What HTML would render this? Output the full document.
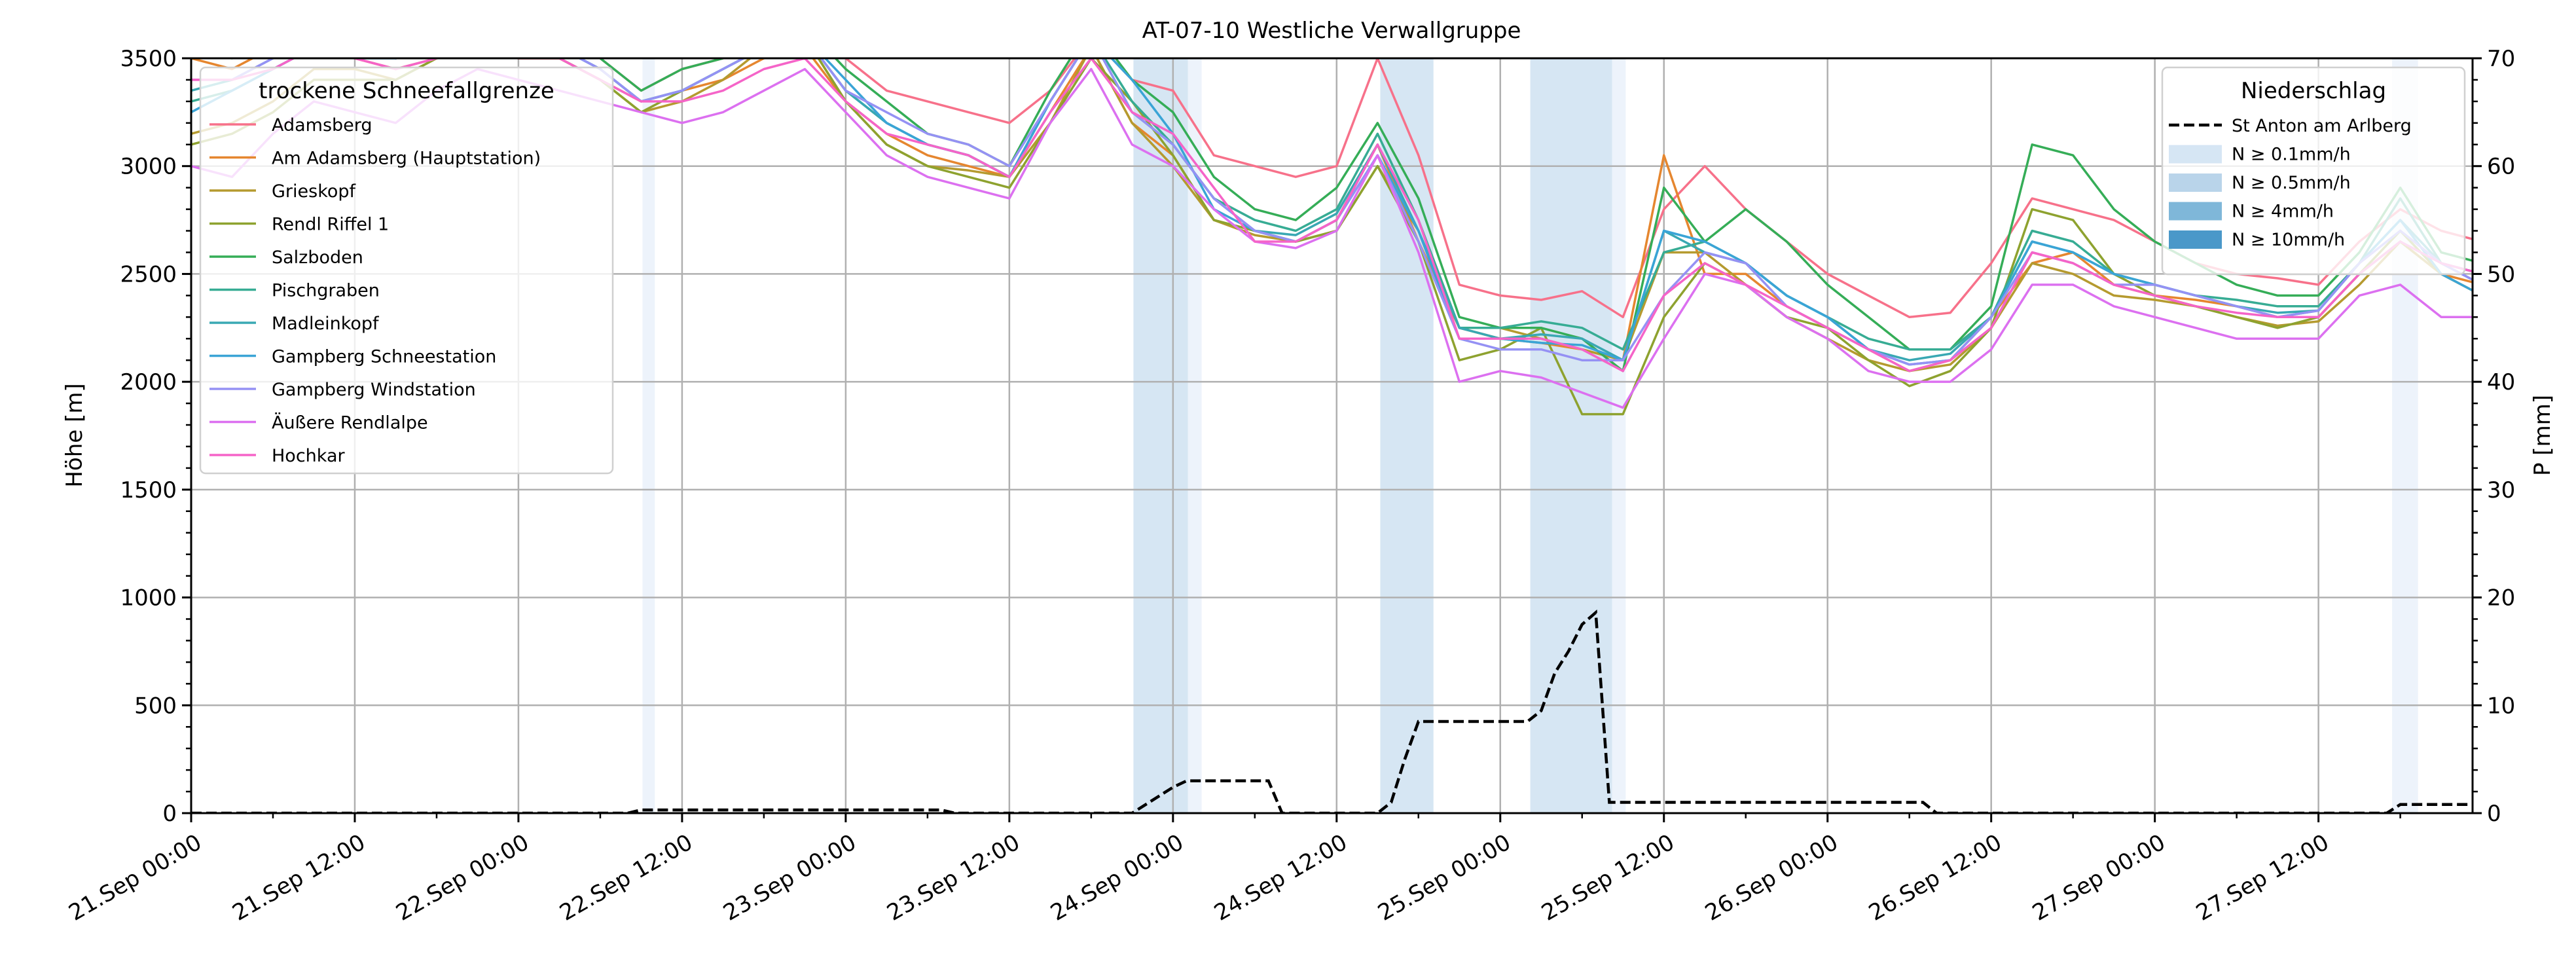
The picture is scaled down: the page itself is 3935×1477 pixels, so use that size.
<!DOCTYPE html>
<html><head><meta charset="utf-8">
<style>
html,body{margin:0;padding:0;background:#fff;}
svg{display:block;font-family:"DejaVu Sans","Liberation Sans",sans-serif;}
</style></head>
<body>
<svg id="chart" width="3935" height="1477" viewBox="0 0 3935 1477" xmlns="http://www.w3.org/2000/svg">
<defs><clipPath id="plotclip"><rect x="292" y="89" width="3485" height="1153"/></clipPath></defs>
<rect x="0" y="0" width="3935" height="1477" fill="#fff"/>
<g id="bands" clip-path="url(#plotclip)"></g>
<g id="grid"></g>
<g id="series" clip-path="url(#plotclip)"></g>
<g id="precip" clip-path="url(#plotclip)"></g>
<g id="axes"></g>
<text x="2034" y="58" font-size="34" text-anchor="middle">AT-07-10 Westliche Verwallgruppe</text>
<text transform="translate(125,665) rotate(-90)" font-size="34" text-anchor="middle">Höhe [m]</text>
<text transform="translate(3895,665) rotate(-90)" font-size="34" text-anchor="middle">P [mm]</text>
<g id="legend-left"></g>
<g id="legend-right"></g>
</svg>
<script>
const hours = [0,3,6,9,12,15,18,21,24,27,30,33,36,39,42,45,48,51,54,57,60,63,66,69,72,75,78,81,84,87,90,93,96,99,102,105,108,111,114,117,120,123,126,129,132,135,138,141,144,147,150,153,156,159,162,165,168];
const seriesNames = ["Adamsberg","Am Adamsberg (Hauptstation)","Grieskopf","Rendl Riffel 1","Salzboden","Pischgraben","Madleinkopf","Gampberg Schneestation","Gampberg Windstation","Äußere Rendlalpe","Hochkar"];
const seriesColors = ["#f7718a","#e5862f","#b59a2f","#8ea22f","#35ad57","#37ac94","#39a8b3","#3aa4d6","#9591f4","#dc70f0","#f564c8"];
const adamsberg = [3600,3650,3700,3650,3600,3550,3600,3650,3600,3550,3500,3350,3450,3500,3600,3650,3500,3350,3300,3250,3200,3350,3600,3400,3350,3050,3000,2950,3000,3500,3050,2450,2400,2380,2420,2300,2800,3000,2800,2650,2500,2400,2300,2320,2550,2850,2800,2750,2650,2550,2500,2480,2450,2650,2800,2700,2650];
const amAdamsberg = [3500,3450,3550,3550,3500,3450,3500,3550,3500,3500,3400,3300,3350,3400,3500,3550,3300,3150,3050,3000,2950,3250,3550,3200,3050,2750,2700,2650,2750,3100,2650,2250,2200,2180,2150,2100,3050,2500,2500,2350,2250,2150,2050,2100,2300,2550,2600,2450,2400,2380,2350,2300,2300,2500,2650,2500,2450];
const grieskopf = [3150,3200,3300,3450,3450,3400,3500,3550,3500,3500,3400,3250,3300,3400,3550,3600,3300,3100,3000,2980,2950,3200,3550,3200,3000,2750,2680,2650,2700,3000,2700,2250,2250,2200,2150,2100,2600,2600,2450,2300,2200,2100,2050,2080,2250,2550,2500,2400,2380,2350,2300,2260,2280,2450,2650,2500,2400];
const rendlRiffel = [3100,3150,3250,3400,3400,3400,3500,3550,3550,3500,3400,3250,3350,3450,3550,3600,3300,3100,3000,2950,2900,3200,3500,3300,3050,2750,2700,2650,2700,3000,2650,2100,2150,2250,1850,1850,2300,2550,2450,2300,2250,2100,1980,2050,2250,2800,2750,2500,2400,2350,2300,2250,2300,2500,2700,2500,2400];
const salzboden = [3550,3500,3600,3650,3600,3500,3550,3650,3600,3600,3500,3350,3450,3500,3600,3650,3450,3300,3150,3100,3000,3350,3650,3400,3250,2950,2800,2750,2900,3200,2850,2300,2250,2250,2200,2050,2900,2650,2800,2650,2450,2300,2150,2150,2350,3100,3050,2800,2650,2550,2450,2400,2400,2600,2900,2600,2550];
const pischgraben = [3300,3350,3450,3550,3550,3500,3550,3600,3550,3550,3450,3300,3350,3450,3550,3600,3350,3200,3100,3050,2950,3300,3600,3300,3100,2850,2750,2700,2800,3150,2750,2250,2250,2280,2250,2150,2600,2650,2550,2400,2300,2200,2150,2150,2300,2700,2650,2500,2450,2400,2380,2350,2350,2550,2850,2550,2500];
const madleinkopf = [3350,3400,3500,3550,3550,3500,3550,3600,3600,3550,3450,3300,3350,3450,3550,3600,3350,3200,3100,3050,2950,3300,3600,3250,3100,2850,2700,2680,2780,3100,2700,2250,2200,2220,2200,2100,2700,2600,2550,2400,2300,2150,2100,2130,2300,2650,2600,2500,2450,2400,2350,2320,2330,2550,2750,2550,2450];
const gampbergSchnee = [3250,3350,3450,3550,3500,3500,3550,3600,3550,3550,3450,3300,3350,3450,3550,3600,3400,3200,3100,3050,2950,3300,3600,3400,3150,2800,2700,2650,2750,3050,2700,2200,2200,2180,2170,2100,2700,2650,2550,2400,2300,2150,2080,2100,2300,2650,2600,2500,2450,2400,2350,2300,2330,2550,2750,2500,2400];
const gampbergWind = [3400,3400,3500,3600,3550,3500,3550,3600,3550,3550,3450,3300,3350,3450,3550,3600,3350,3250,3150,3100,3000,3300,3600,3250,3100,2850,2700,2650,2750,3050,2650,2200,2150,2150,2100,2100,2400,2600,2550,2350,2250,2150,2080,2100,2300,2600,2550,2450,2450,2400,2350,2300,2330,2550,2700,2550,2450];
const aeussereRendlalpe = [3000,2950,3150,3300,3250,3200,3350,3450,3400,3350,3300,3250,3200,3250,3350,3450,3250,3050,2950,2900,2850,3200,3450,3100,3000,2800,2650,2620,2700,3050,2600,2000,2050,2020,1950,1880,2200,2500,2450,2300,2200,2050,2000,2000,2150,2450,2450,2350,2300,2250,2200,2200,2200,2400,2450,2300,2300];
const hochkar = [3400,3400,3450,3550,3500,3450,3500,3550,3500,3500,3400,3300,3300,3350,3450,3500,3300,3150,3100,3050,2950,3250,3500,3250,3150,2900,2650,2650,2750,3100,2750,2200,2200,2200,2150,2050,2400,2550,2450,2350,2250,2150,2050,2100,2250,2600,2550,2450,2400,2350,2320,2300,2300,2500,2650,2550,2500];
const allSeries = [adamsberg,amAdamsberg,grieskopf,rendlRiffel,salzboden,pischgraben,madleinkopf,gampbergSchnee,gampbergWind,aeussereRendlalpe,hochkar];

const precipHours = [0,32,33,55,56,69,72,73,79,80,87,88,89,90,98,99,100,101,102,103,104,105,127,128,161,162,167.3];
const precipValues = [0,0,0.3,0.3,0,0,2.4,3,3,0,0,1,5,8.5,8.5,9.5,13,15,17.5,18.6,1,1,1,0,0,0.8,0.8];

const bandStart = [33.1,69.1,73.1,87.2,98.2,104.2,161.4];
const bandEnd = [34.0,73.1,74.1,91.1,104.2,105.2,163.3];
const bandLevel = ["light","mid","light","mid","mid","light","light"];

const xTickLabels = ["21.Sep 00:00","21.Sep 12:00","22.Sep 00:00","22.Sep 12:00","23.Sep 00:00","23.Sep 12:00","24.Sep 00:00","24.Sep 12:00","25.Sep 00:00","25.Sep 12:00","26.Sep 00:00","26.Sep 12:00","27.Sep 00:00","27.Sep 12:00"];
const yTicks = [0,500,1000,1500,2000,2500,3000,3500];
const y2Ticks = [0,10,20,30,40,50,60,70];

const L=292,R=3777,T=89,B=1242,XMAX=167.3,YMAX=3500,PMAX=70;
const NS='http://www.w3.org/2000/svg';
function xs(h){return L+h*(R-L)/XMAX;}
function ys(v){return B-v*(B-T)/YMAX;}
function ps(v){return B-v*(B-T)/PMAX;}
function mk(tag,attrs,parent){const e=document.createElementNS(NS,tag);for(const k in attrs)e.setAttribute(k,attrs[k]);parent.appendChild(e);return e;}

const gb=document.getElementById('bands');
for(let i=0;i<bandStart.length;i++){
  const r=mk('rect',{x:xs(bandStart[i]),y:T,width:xs(bandEnd[i])-xs(bandStart[i]),height:B-T,fill:bandLevel[i]==='mid'?'#d6e6f3':'#edf3fb'},gb);
  
  
}
const gg=document.getElementById('grid');
for(let i=0;i<xTickLabels.length;i++){const x=xs(i*12);const l=mk('line',{x1:x,x2:x,y1:T,y2:B,stroke:'#b0b0b0','stroke-width':2.5},gg);
  
  }
for(const v of yTicks){const y=ys(v);const l=mk('line',{x1:L,x2:R,y1:y,y2:y,stroke:'#b0b0b0','stroke-width':2.5},gg);
  
  }
const gs=document.getElementById('series');
for(let s=0;s<allSeries.length;s++){
  const pts=allSeries[s].map((v,i)=>xs(hours[i]).toFixed(1)+','+ys(v).toFixed(1)).join(' ');
  const p=mk('polyline',{points:pts,fill:'none',stroke:seriesColors[s],'stroke-width':3.5,'stroke-linejoin':'round'},gs);
  
  
}
const gp=document.getElementById('precip');
const ppts=precipHours.map((h,i)=>xs(h).toFixed(1)+','+ps(precipValues[i]).toFixed(1)).join(' ');
const pl=mk('polyline',{points:ppts,fill:'none',stroke:'#000','stroke-width':4.5,'stroke-dasharray':'16,7'},gp);


const ga=document.getElementById('axes');
mk('rect',{x:L,y:T,width:R-L,height:B-T,fill:'none',stroke:'#000','stroke-width':3},ga);
for(let i=0;i<xTickLabels.length;i++){
  const x=xs(i*12);
  mk('line',{x1:x,x2:x,y1:B,y2:B+14,stroke:'#000','stroke-width':3},ga);
  const t=mk('text',{transform:`translate(${x+6},${B+30}) rotate(-30)`,'font-size':34,'text-anchor':'end','dominant-baseline':'hanging'},ga);
  t.textContent=xTickLabels[i];
  
  
}
for(let h=6;h<XMAX;h+=12){const x=xs(h);mk('line',{x1:x,x2:x,y1:B,y2:B+8,stroke:'#000','stroke-width':2.5},ga);}
for(const v of yTicks){const y=ys(v);mk('line',{x1:L-14,x2:L,y1:y,y2:y,stroke:'#000','stroke-width':3},ga);
  const t=mk('text',{x:L-22,y:y+12,'font-size':34,'text-anchor':'end'},ga);t.textContent=v;
  
  }
for(let v=100;v<YMAX;v+=100){if(v%500===0)continue;const y=ys(v);mk('line',{x1:L-8,x2:L,y1:y,y2:y,stroke:'#000','stroke-width':2.5},ga);}
for(const v of y2Ticks){const y=ps(v);mk('line',{x1:R,x2:R+14,y1:y,y2:y,stroke:'#000','stroke-width':3},ga);
  const t=mk('text',{x:R+22,y:y+12,'font-size':34,'text-anchor':'start'},ga);t.textContent=v;
  
  }
for(let v=2;v<PMAX;v+=2){if(v%10===0)continue;const y=ps(v);mk('line',{x1:R,x2:R+8,y1:y,y2:y,stroke:'#000','stroke-width':2.5},ga);}

const gl=document.getElementById('legend-left');


mk('rect',{x:306,y:103,width:630,height:620,rx:8,fill:'#fff','fill-opacity':0.8,stroke:'#d0d0d0','stroke-width':2.5},gl);
const lt=mk('text',{x:621,y:150,'font-size':34,'text-anchor':'middle'},gl);lt.textContent='trockene Schneefallgrenze';
for(let s=0;s<seriesNames.length;s++){
  const y=190+s*50.5;
  mk('line',{x1:320,x2:391,y1:y,y2:y,stroke:seriesColors[s],'stroke-width':3.5},gl);
  const t=mk('text',{x:415,y:y+10,'font-size':27},gl);t.textContent=seriesNames[s];
  
  
}
const gr=document.getElementById('legend-right');


mk('rect',{x:3303,y:103,width:462,height:316,rx:8,fill:'#fff','fill-opacity':0.8,stroke:'#d0d0d0','stroke-width':2.5},gr);
const rt=mk('text',{x:3534,y:150,'font-size':34,'text-anchor':'middle'},gr);rt.textContent='Niederschlag';
const rLabels=['St Anton am Arlberg','N ≥ 0.1mm/h','N ≥ 0.5mm/h','N ≥ 4mm/h','N ≥ 10mm/h'];
const rColors=[null,'#d6e6f4','#b9d4ea','#7fb7d9','#4a98c9'];
for(let i=0;i<rLabels.length;i++){
  const y=191+i*43.5;
  if(i===0){mk('line',{x1:3313,x2:3394,y1:y,y2:y,stroke:'#000','stroke-width':4.5,'stroke-dasharray':'16,7'},gr);}
  else{mk('rect',{x:3313,y:y-13,width:81,height:28,fill:rColors[i]},gr);}
  const t=mk('text',{x:3409,y:y+10,'font-size':27},gr);t.textContent=rLabels[i];
  
  
}
</script>
</body></html>
